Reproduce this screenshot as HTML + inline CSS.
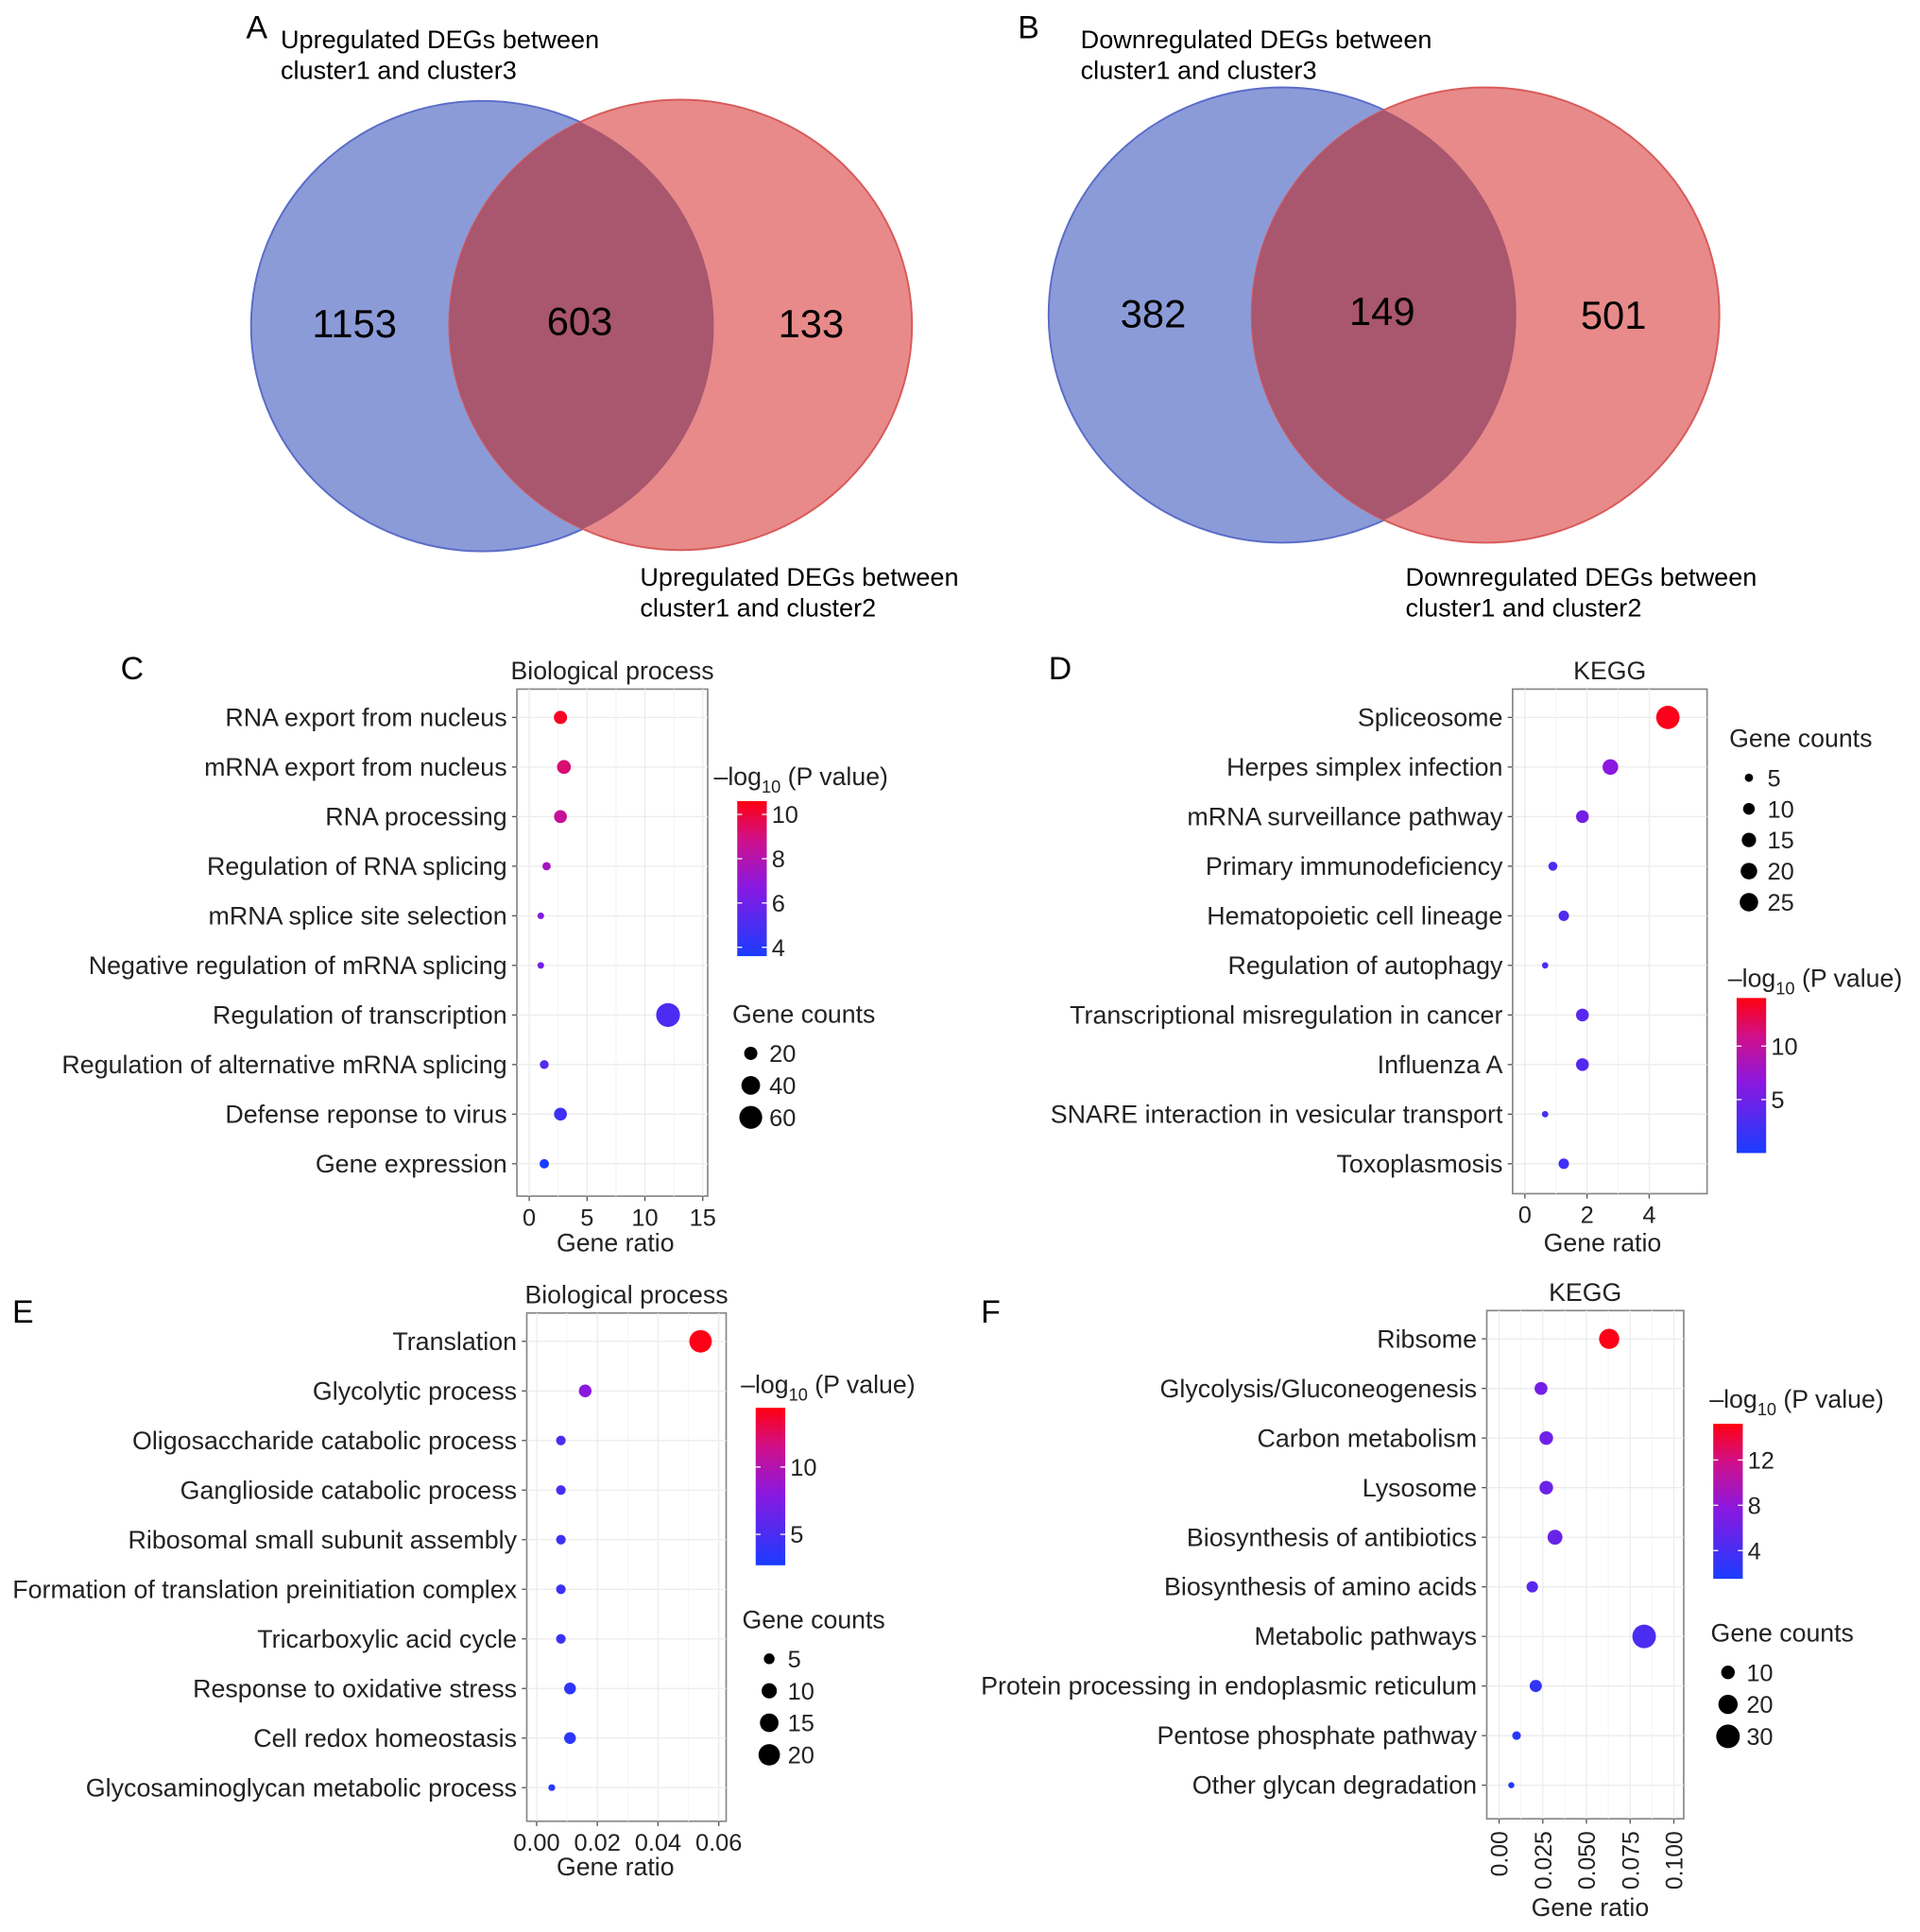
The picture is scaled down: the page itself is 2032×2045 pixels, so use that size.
<!DOCTYPE html>
<html><head><meta charset="utf-8"><style>
html,body{margin:0;padding:0;background:#fff;}
svg{display:block;font-family:"Liberation Sans",sans-serif;}
</style></head><body>
<svg id="fig" width="2032" height="2045" viewBox="0 0 1560 1570" preserveAspectRatio="none" xmlns="http://www.w3.org/2000/svg">
<defs>
<clipPath id="clipA"><ellipse cx="392" cy="265" rx="188" ry="183"/></clipPath>
<clipPath id="clipB"><ellipse cx="1042" cy="256" rx="190" ry="185"/></clipPath>
<linearGradient id="cgrad" x1="0" y1="1" x2="0" y2="0">
<stop offset="0" stop-color="#1a3cff"/><stop offset="0.45" stop-color="#8a18e0"/><stop offset="0.75" stop-color="#d0108a"/><stop offset="1" stop-color="#ff0010"/>
</linearGradient>
</defs>
<g>
<text x="200" y="31" font-size="26">A</text>
<text x="228" y="39" font-size="20.8"><tspan x="228">Upregulated DEGs between</tspan><tspan x="228" dy="25">cluster1 and cluster3</tspan></text>
<ellipse cx="392" cy="265" rx="188" ry="183" fill="#8b9bd8" stroke="#5a6cc8" stroke-width="1.5"/>
<ellipse cx="553" cy="264" rx="188" ry="183" fill="#e88a8a" stroke="#d85a5a" stroke-width="1.5"/>
<ellipse cx="553" cy="264" rx="188" ry="183" fill="#a9566f" clip-path="url(#clipA)"/>
<text x="288" y="274" font-size="32" text-anchor="middle">1153</text>
<text x="471" y="272" font-size="32" text-anchor="middle">603</text>
<text x="659" y="274" font-size="32" text-anchor="middle">133</text>
<text x="520" y="476" font-size="20.8"><tspan x="520">Upregulated DEGs between</tspan><tspan x="520" dy="25">cluster1 and cluster2</tspan></text>
</g>
<g>
<text x="827" y="31" font-size="26">B</text>
<text x="878" y="39" font-size="20.8"><tspan x="878">Downregulated DEGs between</tspan><tspan x="878" dy="25">cluster1 and cluster3</tspan></text>
<ellipse cx="1042" cy="256" rx="190" ry="185" fill="#8b9bd8" stroke="#5a6cc8" stroke-width="1.5"/>
<ellipse cx="1207" cy="256" rx="190" ry="185" fill="#e88a8a" stroke="#d85a5a" stroke-width="1.5"/>
<ellipse cx="1207" cy="256" rx="190" ry="185" fill="#a9566f" clip-path="url(#clipB)"/>
<text x="937" y="266" font-size="32" text-anchor="middle">382</text>
<text x="1123" y="264" font-size="32" text-anchor="middle">149</text>
<text x="1311" y="267" font-size="32" text-anchor="middle">501</text>
<text x="1142" y="476" font-size="20.8"><tspan x="1142">Downregulated DEGs between</tspan><tspan x="1142" dy="25">cluster1 and cluster2</tspan></text>
</g>
<text x="98" y="552" font-size="26">C</text>
<text x="852" y="552" font-size="26">D</text>
<text x="10" y="1075" font-size="26">E</text>
<text x="797" y="1075" font-size="26">F</text>
</svg>
<script>
// Panel C
const cCats = ["RNA export from nucleus","mRNA export from nucleus","RNA processing","Regulation of RNA splicing","mRNA splice site selection","Negative regulation of mRNA splicing","Regulation of transcription","Regulation of alternative mRNA splicing","Defense reponse to virus","Gene expression"];
const cRatio = [2.7,3.0,2.7,1.5,1.0,1.0,12.0,1.3,2.7,1.3];
const cLogP = [10.3,9.2,8.5,7.5,6.5,6.0,5.0,5.3,4.6,3.6];
const cCount = [20,22,19,8,5,5,65,9,19,10];
const cXTicks = [0,5,10,15];
const cColorTicks = [4,6,8,10];
const cSizeTicks = [20,40,60];
// Panel D
const dCats = ["Spliceosome","Herpes simplex infection","mRNA surveillance pathway","Primary immunodeficiency","Hematopoietic cell lineage","Regulation of autophagy","Transcriptional misregulation in cancer","Influenza A","SNARE interaction in vesicular transport","Toxoplasmosis"];
const dRatio = [4.6,2.75,1.85,0.9,1.25,0.65,1.85,1.85,0.65,1.25];
const dLogP = [14.2,6.5,5.2,3.0,3.2,2.8,3.6,3.4,2.6,2.2];
const dCount = [40,18,12,6,8,3,12,12,3,8];
const dXTicks = [0,2,4];
const dColorTicks = [5,10];
const dSizeTicks = [5,10,15,20,25];
// Panel E
const eCats = ["Translation","Glycolytic process","Oligosaccharide catabolic process","Ganglioside catabolic process","Ribosomal small subunit assembly","Formation of translation preinitiation complex","Tricarboxylic acid cycle","Response to oxidative stress","Cell redox homeostasis","Glycosaminoglycan metabolic process"];
const eRatio = [0.054,0.016,0.008,0.008,0.008,0.008,0.008,0.011,0.011,0.005];
const eLogP = [14.2,8,5,4.8,4.5,4.3,4.3,3.6,3.6,3.2];
const eCount = [22,7,4,4,4,4,4,6,6,2];
const eXTicks = [0,0.02,0.04,0.06];
const eXTickLabels = ["0.00","0.02","0.04","0.06"];
const eColorTicks = [5,10];
const eSizeTicks = [5,10,15,20];
// Panel F
const fCats = ["Ribsome","Glycolysis/Gluconeogenesis","Carbon metabolism","Lysosome","Biosynthesis of antibiotics","Biosynthesis of amino acids","Metabolic pathways","Protein processing in endoplasmic reticulum","Pentose phosphate pathway","Other glycan degradation"];
const fRatio = [0.063,0.024,0.027,0.027,0.032,0.019,0.083,0.021,0.010,0.007];
const fLogP = [15,6.5,6.2,6.0,5.8,4.8,4.2,2.8,2.2,1.8];
const fCount = [22,9,10,10,12,7,30,8,4,2];
const fXTicks = [0,0.025,0.05,0.075,0.1];
const fXTickLabels = ["0.00","0.025","0.050","0.075","0.100"];
const fColorTicks = [4,8,12];
const fSizeTicks = [10,20,30];

const NS = "http://www.w3.org/2000/svg";
const svg = document.getElementById("fig");
function mk(tag, attrs, parent){ const e=document.createElementNS(NS,tag); for(const k in attrs) e.setAttribute(k,attrs[k]); (parent||svg).appendChild(e); return e; }
function lerp(a,b,t){return Math.round(a+(b-a)*t);}
function colorOf(v,min,max){
  let t=Math.max(0,Math.min(1,(v-min)/(max-min)));
  const st=[[0,[26,60,255]],[0.45,[138,24,224]],[0.75,[208,16,138]],[1,[255,0,16]]];
  for(let i=1;i<st.length;i++){ if(t<=st[i][0]){ const u=(t-st[i-1][0])/(st[i][0]-st[i-1][0]); const a=st[i-1][1],b=st[i][1]; return `rgb(${lerp(a[0],b[0],u)},${lerp(a[1],b[1],u)},${lerp(a[2],b[2],u)})`; } }
  return "rgb(255,0,16)";
}
function panel(p, cats, ratio, logp, count, xticks, xlabels, cticks, sticks){
  const g = mk("g",{});
  
  
  const xS = v => p.x0 + (v - p.xmin)/(p.xmax - p.xmin)*(p.x1 - p.x0);
  const yS = i => p.y0 + i*p.step;
  const rS = c => p.rk*Math.sqrt(c);
  const bg = mk("rect",{x:p.bx0,y:p.by0,width:p.bx1-p.bx0,height:p.by1-p.by0,fill:"#fff",stroke:"#888","stroke-width":1.3},g);
  
  
  xticks.forEach(v=>{ const x=xS(v); mk("line",{x1:x,x2:x,y1:p.by0,y2:p.by1,stroke:"#ececec","stroke-width":1},g); });
  for(let k=0;k<xticks.length-1;k++){ const x=xS((xticks[k]+xticks[k+1])/2); mk("line",{x1:x,x2:x,y1:p.by0,y2:p.by1,stroke:"#f5f5f5","stroke-width":0.8},g); }
  cats.forEach((c,i)=>{ const y=yS(i);
    mk("line",{x1:p.bx0,x2:p.bx1,y1:y,y2:y,stroke:"#ececec","stroke-width":1},g);
    mk("line",{x1:p.bx0-4,x2:p.bx0,y1:y,y2:y,stroke:"#555","stroke-width":1},g);
    const t=mk("text",{x:p.bx0-8,y:y+7,"font-size":20.6,"text-anchor":"end",fill:"#222"},g); t.textContent=c;
    
    
  });
  cats.forEach((c,i)=>{
    const d=mk("circle",{cx:xS(ratio[i]),cy:yS(i),r:rS(count[i]),fill:colorOf(logp[i],p.cmin,p.cmax)},g);
    
    
  });
  xticks.forEach((v,k)=>{ const x=xS(v);
    mk("line",{x1:x,x2:x,y1:p.by1,y2:p.by1+4,stroke:"#555","stroke-width":1},g);
    let t;
    if(p.rot){ t=mk("text",{x:x+7,y:p.by1+10,"font-size":19,"text-anchor":"end",transform:`rotate(-90 ${x+7} ${p.by1+10})`,fill:"#222"},g); }
    else { t=mk("text",{x:x,y:p.by1+24,"font-size":19.5,"text-anchor":"middle",fill:"#222"},g); }
    t.textContent = xlabels ? xlabels[k] : String(v);
    
    
  });
  const xt=mk("text",{x:p.xtX,y:p.xtY,"font-size":20.5,"text-anchor":"middle",fill:"#222"},g); xt.textContent="Gene ratio";
  
  
  const ti=mk("text",{x:(p.bx0+p.bx1)/2,y:p.by0-8,"font-size":20.5,"text-anchor":"middle",fill:"#222"},g); ti.textContent=p.title;
  
  
  const ct=mk("text",{x:p.ctX,y:p.ctY,"font-size":20.5,fill:"#222"},g);
  ct.innerHTML='\u2013log<tspan font-size="14" dy="6">10</tspan><tspan dy="-6"> (P value)</tspan>';
  
  
  const cb=mk("rect",{x:p.cbx,y:p.cby0,width:24,height:p.cby1-p.cby0,fill:"url(#cgrad)"},g);
  
  
  const cy = v => p.cby1 - (v-p.cmin)/(p.cmax-p.cmin)*(p.cby1-p.cby0);
  cticks.forEach(v=>{ const y=cy(v);
    mk("line",{x1:p.cbx,x2:p.cbx+4,y1:y,y2:y,stroke:"#fff","stroke-width":1},g);
    mk("line",{x1:p.cbx+20,x2:p.cbx+24,y1:y,y2:y,stroke:"#fff","stroke-width":1},g);
    const t=mk("text",{x:p.cbx+28,y:y+7,"font-size":19.5,fill:"#222"},g); t.textContent=v;
    
    
  });
  const st=mk("text",{x:p.stX,y:p.stY,"font-size":20.5,fill:"#222"},g); st.textContent="Gene counts";
  
  
  sticks.forEach((v,k)=>{ const y=p.stY+25+k*p.sStep;
    const c=mk("circle",{cx:p.sX,cy:y,r:rS(v),fill:"#000"},g);
    
    
    const t=mk("text",{x:p.sX+15,y:y+7,"font-size":19.5,fill:"#222"},g); t.textContent=v;
    
    
  });
}
panel({id:"panel-c",title:"Biological process",bx0:420,bx1:575,by0:560,by1:972,x0:430,x1:571,xmin:0,xmax:15,y0:583,step:40.3,rk:1.2,cmin:3.6,cmax:10.6,cbx:599,cby0:651,cby1:777,ctX:580,ctY:638,stX:595,stY:831,sX:610,sStep:26,xtX:500,xtY:1017},
  cCats,cRatio,cLogP,cCount,cXTicks,null,cColorTicks,cSizeTicks);
panel({id:"panel-d",title:"KEGG",bx0:1229,bx1:1387,by0:560,by1:970,x0:1239,x1:1340,xmin:0,xmax:4,y0:583,step:40.3,rk:1.5,cmin:0,cmax:14.5,cbx:1411,cby0:811,cby1:937,ctX:1404,ctY:802,stX:1405,stY:607,sX:1421,sStep:25.3,xtX:1302,xtY:1017},
  dCats,dRatio,dLogP,dCount,dXTicks,null,dColorTicks,dSizeTicks);
panel({id:"panel-e",title:"Biological process",bx0:428,bx1:590,by0:1067,by1:1480,x0:436,x1:584,xmin:0,xmax:0.06,y0:1090,step:40.3,rk:1.95,cmin:2.7,cmax:14.4,cbx:614,cby0:1144,cby1:1272,ctX:602,ctY:1132,stX:603,stY:1323,sX:625,sStep:26,xtX:500,xtY:1524},
  eCats,eRatio,eLogP,eCount,eXTicks,eXTickLabels,eColorTicks,eSizeTicks);
panel({id:"panel-f",title:"KEGG",bx0:1208,bx1:1368,by0:1065,by1:1478,x0:1218,x1:1360,xmin:0,xmax:0.1,y0:1088,step:40.3,rk:1.75,cmin:1.5,cmax:15.2,cbx:1392,cby0:1157,cby1:1283,ctX:1389,ctY:1144,stX:1390,stY:1334,sX:1404,sStep:26,xtX:1292,xtY:1557,rot:true},
  fCats,fRatio,fLogP,fCount,fXTicks,fXTickLabels,fColorTicks,fSizeTicks);
</script>
</body></html>
